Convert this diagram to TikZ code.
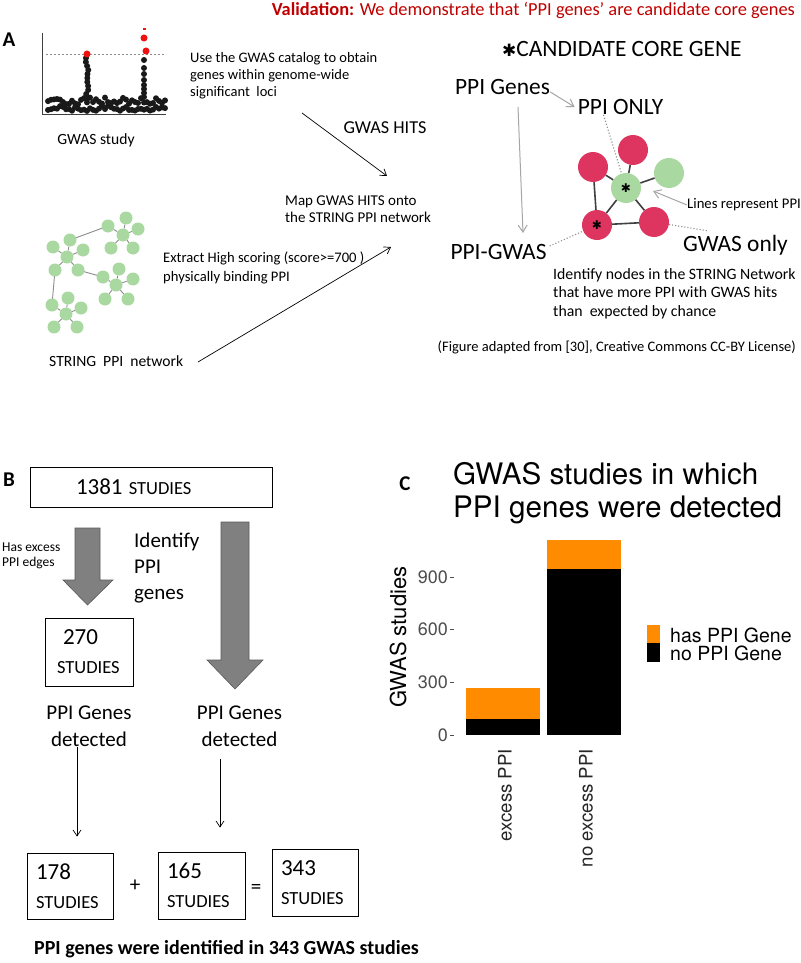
\documentclass[tikz,border=0pt]{standalone}
\usepackage{fontspec}
\setmainfont{Carlito}
\newfontfamily\plotfont{TeX Gyre Heros}
\newfontfamily\symfont{DejaVu Sans}
\usepackage{tikz}
\usetikzlibrary{arrows.meta,positioning}
\definecolor{valred}{HTML}{C00000}
\definecolor{hitred}{HTML}{DE3460}
\definecolor{snpred}{HTML}{F01010}
\definecolor{ppigreen}{HTML}{A9D8A0}
\definecolor{edgegray}{HTML}{8C8C8C}
\definecolor{linkgray}{HTML}{404040}
\definecolor{soft}{HTML}{A6A6A6}
\definecolor{blockgray}{HTML}{808080}
\definecolor{blockedge}{HTML}{5A5A5A}
\definecolor{barorange}{HTML}{FF8C00}
\definecolor{tickgray}{HTML}{4D4D4D}
\newcommand{\nbig}{\fontsize{23}{29}\selectfont}
\newcommand{\nsmall}{\fontsize{18.5}{29}\selectfont}
\tikzset{
  panel/.style={font=\fontsize{21}{24}\selectfont\bfseries, inner sep=0pt},
  txt/.style={font=\fontsize{14.5}{17}\selectfont, align=left, inner sep=0pt},
  big/.style={font=\fontsize{23.4}{27}\selectfont, inner sep=0pt},
  mid/.style={font=\fontsize{21}{27}\selectfont, align=center, inner sep=0pt},
  ppi/.style={circle, fill=ppigreen, minimum size=13pt, inner sep=0pt},
  ppiedge/.style={draw=edgegray, line width=0.9pt},
  hit/.style={circle, fill=hitred, minimum size=30pt, inner sep=0pt},
  core/.style={circle, fill=ppigreen, minimum size=30pt, inner sep=0pt},
  link/.style={draw=linkgray, line width=1.6pt},
  arrow/.style={-{Straight Barb[length=6pt,width=8pt]}, line width=0.7pt},
  grayarrow/.style={-{Straight Barb[length=7pt,width=9pt]}, draw=soft, line width=1pt},
  dotline/.style={draw=edgegray, dotted, line width=1.1pt},
  studybox/.style={draw, line width=0.8pt, inner ysep=0pt, align=left, font=\nsmall},
  blockarrow/.style={fill=blockgray, draw=blockedge, line width=0.6pt},
  snp/.style={fill=black!90}
}

\begin{document}
\begin{tikzpicture}[x=1pt,y=-1pt]
  \fill[white] (0,0) rectangle (800,963);
  \useasboundingbox (0,0) rectangle (800,963);

  % Panel A
  \node[anchor=east, inner sep=0pt, text=valred, font=\fontsize{18.4}{21}\selectfont] (valid) at (795,10)
    {\textbf{Validation:} We demonstrate that `PPI genes' are candidate core genes};
  \node[panel] (labA) at (9,40) {A};

  % GWAS plot
  \draw[linkgray, line width=1pt] (42,33) -- (42,115) -- (166,115);
  \draw[edgegray, dashed, dash pattern=on 2pt off 2pt, line width=0.6pt] (46,54) -- (165,54);
  \pgfmathsetseed{11}
  \foreach \i in {0,...,39}{
    \pgfmathsetmacro{\px}{48+3*\i}
    \pgfmathsetmacro{\pya}{108+3*rand}
    \pgfmathsetmacro{\pyb}{101+4*rand}
    \fill[snp] (\px,\pya) circle (3pt);
    \fill[snp] (\px,\pyb) circle (3pt);
  }
  \foreach \py in {58,62,...,98}{
    \pgfmathsetmacro{\px}{87+1.5*rand}
    \fill[snp] (\px,\py) circle (3pt);
  }
  \foreach \py in {60,68,74,80,85,89,93,97}
    \fill[snp] (144,\py) circle (3pt);
  \fill[snpred] (87,54) circle (3.5pt);
  \fill[snpred] (144,38) circle (3.5pt);
  \fill[snpred] (146,51) circle (3.5pt);
  \fill[snpred] (143,28.5) rectangle (145.5,30);
  \node[txt, font=\fontsize{15.6}{18}\selectfont] (gwasstudy) at (96,140) {GWAS study};

  \node[txt, anchor=west] (catalog) at (190,76)
    {Use the GWAS catalog to obtain\\genes within genome-wide\\significant~ loci};
  \coordinate (hitsfrom) at (302,113);
  \coordinate (hitsto) at (387,176);
  \draw[arrow] (hitsfrom) -- (hitsto);
  \node[txt, font=\fontsize{18.2}{21}\selectfont] (hits) at (385,128) {GWAS HITS};
  \node[txt, anchor=west, font=\fontsize{15}{17}\selectfont] (map) at (285,209.5)
    {Map GWAS HITS onto\\the STRING PPI network};

  % STRING network
  \draw[ppiedge] (108,226) -- (70,240);
  \draw[ppiedge] (55,270) -- (52,305);
  \draw[ppiedge] (78,270) -- (103,277);
  \begin{scope}[shift={(123,235)}]
    \node[ppi] (c1) at (0,0) {};
    \foreach \dx/\dy [count=\k] in {3/-17,15/-6,10/13,-12/13,-15/-9}{
      \node[ppi] (c1s\k) at (\dx,\dy) {};
      \draw[ppiedge] (c1) -- (c1s\k);
    }
  \end{scope}
  \begin{scope}[shift={(67,257)}]
    \node[ppi] (c2) at (0,0) {};
    \foreach \dx/\dy [count=\k] in {3/-17,-14/-10,16/-7,-12/13,11/13}{
      \node[ppi] (c2s\k) at (\dx,\dy) {};
      \draw[ppiedge] (c2) -- (c2s\k);
    }
  \end{scope}
  \begin{scope}[shift={(116,285)}]
    \node[ppi] (c3) at (0,0) {};
    \foreach \dx/\dy [count=\k] in {-13/-8,3/-16,17/-6,-11/14,12/14}{
      \node[ppi] (c3s\k) at (\dx,\dy) {};
      \draw[ppiedge] (c3) -- (c3s\k);
    }
  \end{scope}
  \begin{scope}[shift={(66,314)}]
    \node[ppi] (c4) at (0,0) {};
    \foreach \dx/\dy [count=\k] in {-14/-9,2/-16,15/-6,-12/13,11/13}{
      \node[ppi] (c4s\k) at (\dx,\dy) {};
      \draw[ppiedge] (c4) -- (c4s\k);
    }
  \end{scope}
  \node[txt, anchor=west, font=\fontsize{14.6}{19}\selectfont] (extract) at (163,267.5)
    {Extract High scoring (score>=700 )\\physically binding PPI};
  \node[txt, anchor=west, font=\fontsize{15.6}{18}\selectfont] (strlbl) at (49,361)
    {STRING~~PPI~~network};
  \coordinate (strfrom) at (198,362);
  \coordinate (strto) at (391,247);
  \draw[arrow] (strfrom) -- (strto);

  % candidate core gene
  \node[big, anchor=west] (cand) at (502,49)
    {{\symfont\fontsize{17}{20}\selectfont ✱}CANDIDATE CORE GENE};
  \node[big] (ppigenes) at (502.5,87) {PPI Genes};
  \node[big] (ppionly) at (620.5,107) {PPI ONLY};
  \node[big] (ppigwas) at (498.5,252) {PPI-GWAS};
  \node[big] (gwasonly) at (735.5,245) {GWAS only};
  \draw[grayarrow] ([yshift=3pt]ppigenes.south east) -- ([xshift=-3pt]ppionly.west);
  \coordinate (gtop) at (518,107);
  \coordinate (gbot) at (523,233);
  \draw[grayarrow] (gtop) -- (gbot);

  \node[core] (gcen) at (626,188) {};
  \node[hit] (rtl) at (593,167) {};
  \node[hit] (rtop) at (633,150) {};
  \node[core] (gright) at (669,173) {};
  \node[hit] (rbl) at (597,225) {};
  \node[hit] (rbr) at (654,222) {};
  \draw[link] (rtl) -- (gcen);
  \draw[link] (rtop) -- (gcen);
  \draw[link] (gright) -- (gcen);
  \draw[link] (gcen) -- (rbl);
  \draw[link] (gcen) -- (rbr);
  \draw[link] (rbl) -- (rbr);
  \draw[link] (rtl) -- (rbl);
  \node[font=\symfont\fontsize{12}{12}\selectfont, inner sep=0pt] (astc) at (gcen) {✱};
  \node[font=\symfont\fontsize{12}{12}\selectfont, inner sep=0pt] (astb) at (rbl) {✱};

  \draw[dotline] ([xshift=-17pt]ppionly.south) -- (gcen);
  \draw[dotline] ([xshift=3pt,yshift=6pt]ppigwas.east) -- (rbl);
  \draw[dotline] (rbr) -- ([xshift=-28pt,yshift=4pt]gwasonly.north);
  \node[txt, anchor=west, font=\fontsize{14.7}{17}\selectfont] (linesppi) at (687,205) {Lines represent PPI};
  \coordinate (edgept) at (653,191);
  \draw[grayarrow] (linesppi.west) -- (edgept);
  \node[txt, anchor=west, font=\fontsize{15.8}{18.5}\selectfont] (identify) at (553,293.5)
    {Identify nodes in the STRING Network\\that have more PPI with GWAS hits\\than~ expected by chance};
  \node[txt, anchor=east, font=\fontsize{14.5}{17}\selectfont] (adapted) at (796,347)
    {(Figure adapted from [30], Creative Commons CC-BY License)};

  % Panel B
  \node[panel] (labB) at (9,480) {B};
  \node[studybox, minimum height=40pt, text width=150pt, inner xsep=46pt] (b1381) at (151,487)
    {{\nbig 1381} STUDIES};
  \draw[blockarrow] (75,528) -- (100,528) -- (100,580) -- (113,580) -- (87.5,605)
    -- (63,580) -- (75,580) -- cycle;
  \draw[blockarrow] (221,522) -- (249,522) -- (249,660) -- (263,660) -- (235,689)
    -- (207,660) -- (221,660) -- cycle;
  \node[txt, anchor=west, font=\fontsize{13.5}{15}\selectfont] (excess) at (2,555.5)
    {Has excess\\PPI edges};
  \node[txt, anchor=west, font=\fontsize{21}{26}\selectfont] (identppi) at (134,568)
    {Identify\\PPI\\genes};
  \node[studybox, minimum height=68pt, text width=64pt, inner xsep=12pt] (b270) at (89,652)
    {\hspace*{6pt}{\nbig 270}\\STUDIES};
  \node[mid] (detL) at (89,726.5) {PPI Genes\\detected};
  \node[mid] (detR) at (239.5,726.5) {PPI Genes\\detected};
  \node[studybox, minimum height=66pt, text width=68pt, inner xsep=9pt] (b178) at (70,886)
    {{\nbig 178}\\STUDIES};
  \node[studybox, minimum height=67pt, text width=69pt, inner xsep=9pt] (b165) at (201.5,885.5)
    {{\nbig 165}\\STUDIES};
  \node[studybox, minimum height=67pt, text width=68pt, inner xsep=9pt] (b343) at (315,882.5)
    {{\nbig 343}\\STUDIES};
  \node[mid] (plus) at (135,886) {+};
  \node[mid] (equals) at (256,889) {=};
  \draw[arrow, shorten >=16pt] ([xshift=-12pt]detL.south) -- ([xshift=7pt]b178.north);
  \draw[arrow, shorten <=12pt, shorten >=24pt] ([xshift=-19.5pt]detR.south) -- ([xshift=18.5pt]b165.north);
  \node[txt, anchor=west, font=\fontsize{20}{24}\selectfont\bfseries] (summary) at (34,949)
    {PPI genes were identified in 343 GWAS studies};

  % Panel C
  \node[panel] (labC) at (405,484) {C};
  \node[txt, anchor=west, font=\plotfont\fontsize{29.6}{33}\selectfont] (ctitle) at (453,493.5)
    {GWAS studies in which\\PPI genes were detected};
  \node[rotate=90, inner sep=0pt, font=\plotfont\fontsize{22}{24}\selectfont] (ylab) at (398,637) {GWAS studies};
  \foreach \v in {0,300,600,900}{
    \pgfmathsetmacro{\ty}{735-\v*0.17556}
    \node[anchor=east, inner sep=0pt, text=tickgray, font=\plotfont\fontsize{18}{20}\selectfont] (tick\v) at (448,\ty) {\v};
    \draw[tickgray, line width=0.6pt] (450,\ty) -- (454,\ty);
  }
  \fill[black] (466,735) rectangle (540,718.8);
  \fill[barorange] (466,718.8) rectangle (540,687.6);
  \fill[black] (547,735) rectangle (621,568.9);
  \fill[barorange] (547,568.9) rectangle (621,540);
  \node[rotate=90, anchor=east, inner sep=0pt, text=black!85, font=\plotfont\fontsize{18.6}{20}\selectfont] (xexcess) at (505,749) {excess PPI};
  \node[rotate=90, anchor=east, inner sep=0pt, text=black!85, font=\plotfont\fontsize{18.6}{20}\selectfont] (xnoexcess) at (586,749) {no excess PPI};
  \fill[barorange] (647,625) rectangle (660,643);
  \fill[black] (647,643) rectangle (660,662);
  \node[txt, anchor=west, font=\plotfont\fontsize{19.5}{22}\selectfont] (leghas) at (670,635) {has PPI Gene};
  \node[txt, anchor=west, font=\plotfont\fontsize{19.5}{22}\selectfont] (legno) at (670,653) {no PPI Gene};
\end{tikzpicture}
\end{document}
